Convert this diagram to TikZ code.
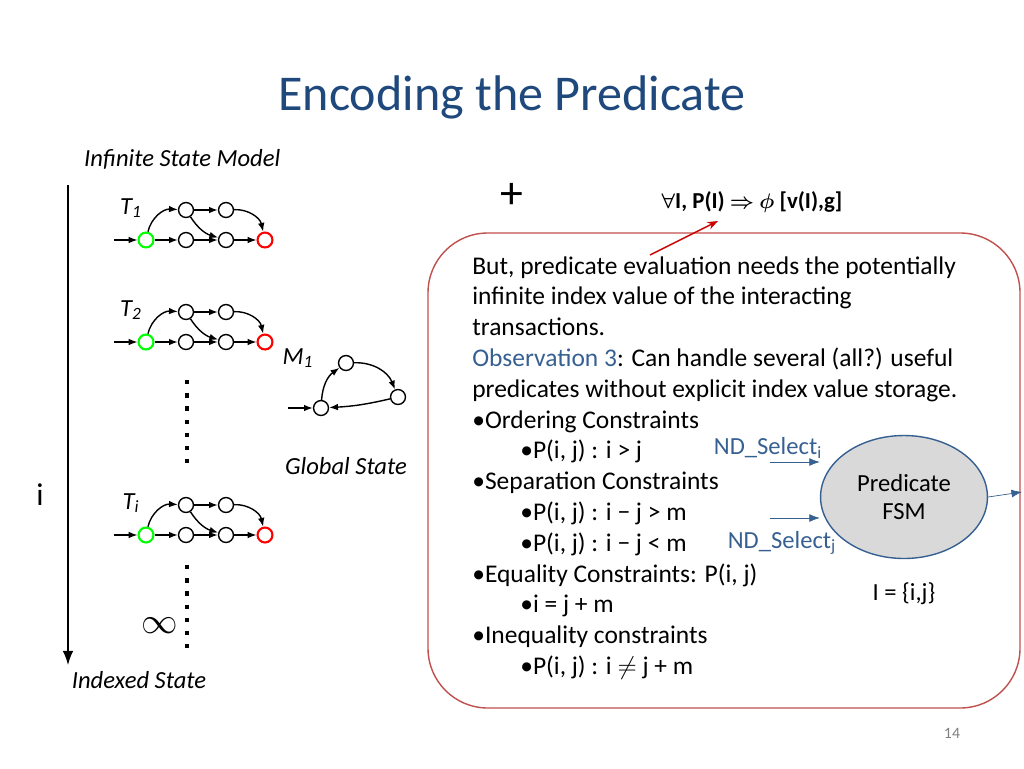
\documentclass[tikz,border=0pt]{standalone}
\usepackage{amsmath,amssymb}
\usepackage{fontspec}
\setmainfont{Carlito}
\usetikzlibrary{arrows.meta,shapes.geometric}
\tikzset{
  st/.style={circle,draw,thick,minimum size=8.5pt,inner sep=0pt},
  ed/.style={-{Latex[length=5pt]},thick},
  body/.style={anchor=west,inner sep=0pt,font=\fontsize{14.5}{16}\selectfont},
  lab/.style={font=\fontsize{14}{16}\selectfont\itshape}
}
\definecolor{boxred}{RGB}{192,80,77}
\definecolor{titleblue}{RGB}{31,73,125}
\definecolor{obsblue}{RGB}{55,96,146}
\begin{document}
\begin{tikzpicture}[x=0.02cm,y=-0.02cm]
  \useasboundingbox (0,0) rectangle (1024,768);
  \node (title) at (512,97) {\fontsize{28.5}{32}\selectfont\color{titleblue}Encoding the Predicate};
  \node[lab,anchor=west] (ism) at (78,159) {Infinite State Model};
  % transactions
  \foreach \n/\y/\s in {a/240/1,b/342/2,c/535/i} {
    \begin{scope}[shift={(0,\y)}]
      \node[lab] (T\n) at (131,-32) {T\textsubscript{\s}};
      \coordinate (in\n) at (114,0);
      \node[st,draw=green,very thick] (g\n) at (146,0) {};
      \node[st] (b1\n) at (186,0) {};
      \node[st] (b2\n) at (226,0) {};
      \node[st,draw=red,very thick] (r\n) at (265,0) {};
      \node[st] (t1\n) at (186,-30) {};
      \node[st] (t2\n) at (226,-30) {};
      \draw[ed] (in\n) -- (g\n);
      \draw[ed] (g\n) -- (b1\n);
      \draw[ed] (b1\n) -- (b2\n);
      \draw[ed] (b2\n) -- (r\n);
      \draw[ed] (t1\n) -- (t2\n);
      \draw[ed] (g\n) to[bend left=40] (t1\n);
      \draw[ed] (t1\n) to[bend right=20] (b2\n);
      \draw[ed] (t2\n) to[bend left=40] (r\n);
    \end{scope}
  }
  % M1
  \node[lab] (M) at (298,358) {M\textsubscript{1}};
  \coordinate (inm) at (288,408);
  \node[st] (m1) at (321,408) {};
  \node[st] (m2) at (346,363) {};
  \node[st] (m3) at (398,397) {};
  \draw[ed] (inm) -- (m1);
  \draw[ed] (m1) to[bend left=25] (m2);
  \draw[ed] (m2) to[bend left=35] (m3);
  \draw[ed] (m3) to[bend left=5] (m1);
  \node[lab] (gs) at (346,466) {Global State};
  % index axis
  \coordinate (ax1) at (68,185);
  \coordinate (ax2) at (68,665);
  \draw[-{Latex[length=8pt]},thick] (ax1) -- (ax2);
  \node[font=\fontsize{18}{20}\selectfont] (iv) at (40,495) {i};
  \draw[line width=2.5pt,dash pattern=on 2.5pt off 5pt] (187,380) -- (187,468);
  \draw[line width=2.5pt,dash pattern=on 2.5pt off 5pt] (187,565) -- (187,652);
  \node[font=\fontsize{22}{24}\selectfont] (inf) at (160,626) {$\infty$};
  \node[lab] (xs) at (139,680) {Indexed State};
  % predicate
  \node[font=\fontsize{26}{28}\selectfont] (plus) at (512,196) {+};
  \node[font=\fontsize{13}{15}\selectfont\bfseries] (form) at (752,202) {$\boldsymbol{\forall}$I, P(I) $\boldsymbol{\Rightarrow}$ $\boldsymbol{\phi}$ [v(I),g]};
  \draw[boxred,thick,rounded corners=34pt] (428,233) rectangle (1020,708);
  \coordinate (rs) at (650,255);
  \coordinate (re) at (718,221);
  \draw[-{Stealth[length=6pt]},red!80!black,thick] (rs) -- (re);
  \foreach \x/\y/\t in {
    472/269/{But, predicate evaluation needs the potentially},
    472/299/{infinite index value of the interacting},
    472/330/{transactions.},
    472/361/{\textcolor{obsblue}{Observation 3}: Can handle several (all?) useful},
    472/392/{predicates without explicit index value storage.},
    472/423/{\textbullet Ordering Constraints},
    520/453/{\textbullet P(i, j) : i > j},
    472/484/{\textbullet Separation Constraints},
    520/515/{\textbullet P(i, j) : i − j > m},
    520/546/{\textbullet P(i, j) : i − j < m},
    472/577/{\textbullet Equality Constraints: P(i, j)},
    520/607/{\textbullet i = j + m},
    472/638/{\textbullet Inequality constraints},
    520/669/{\textbullet P(i, j) : i $\neq$ j + m}}
    \node[body] at (\x,\y) {\strut\t};
  % FSM
  \node[ellipse,draw=obsblue,thick,fill=gray!30,minimum width=95pt,minimum height=70pt,align=center,font=\fontsize{14}{16}\selectfont] (fsm) at (904,497) {Predicate\\FSM};
  \coordinate (s1) at (770,462);
  \coordinate (s2) at (770,518);
  \coordinate (out) at (1022,492);
  \draw[-{Latex[length=6pt]},obsblue] (s1) -- (s1 -| fsm.west);
  \draw[-{Latex[length=6pt]},obsblue] (s2) -- (s2 -| fsm.west);
  \draw[-{Latex[length=6pt]},obsblue] (fsm.east) -- (out);
  \node[font=\fontsize{14}{16}\selectfont,text=obsblue] (nd1) at (768,448) {ND\_Select\textsubscript{i}};
  \node[font=\fontsize{14}{16}\selectfont,text=obsblue] (nd2) at (782,543) {ND\_Select\textsubscript{j}};
  \node[font=\fontsize{14}{16}\selectfont] (iset) at (904,594) {I = \{i,j\}};
  \node[font=\fontsize{9}{11}\selectfont,text=gray] (pg) at (952,733) {14};
\end{tikzpicture}
\end{document}
